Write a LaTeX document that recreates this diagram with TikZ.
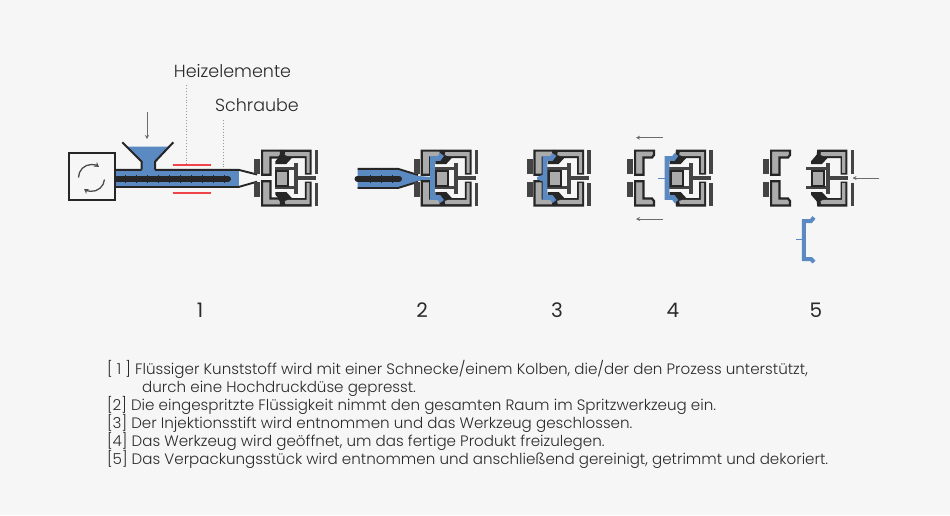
\documentclass[tikz,border=0pt]{standalone}
\usepackage{fontspec}
\setmainfont{Poppins Light}
\newfontfamily\numfont{Poppins}
\usetikzlibrary{arrows.meta}
\definecolor{bgc}{HTML}{F6F6F6}
\definecolor{blu}{HTML}{5B8AC2}
\definecolor{ink}{HTML}{262626}
\definecolor{hatch}{HTML}{ABABAB}
\definecolor{bar}{HTML}{444444}
\definecolor{txt}{HTML}{2A2A2A}
\definecolor{rd}{HTML}{F0444A}
\tikzset{
  x=1pt,y=-1pt,
  moldbody/.style={draw=ink,line width=2.2pt,fill=hatch,line join=miter},
  barfill/.style={fill=bar,draw=none},
  bluefill/.style={fill=blu,draw=none},
  bluestroke/.style={draw=blu,line width=4.8pt,line join=miter},
  moveArrow/.style={draw=gray!85!black,line width=1pt,-{Stealth[length=4pt,width=4pt]}},
  iconArrow/.style={draw=gray!60!black,line width=1.3pt,-{Stealth[length=4.5pt,width=5.5pt]}},
  guide/.style={draw=gray!80,line width=.9pt,dotted},
  heater/.style={draw=rd,line width=1.6pt},
  para/.style={anchor=base west,inner sep=0pt,font=\fontsize{15.1}{17}\selectfont,text=txt},
  stagenum/.style={inner sep=0pt,font=\numfont\fontsize{20}{22}\selectfont,text=txt},
  partlabel/.style={inner sep=0pt,font=\fontsize{17.5}{19}\selectfont,text=txt},
  leftmold/.pic={
    \foreach \s in {1,-1}{
      \begin{scope}[yscale=\s]
        \fill[barfill] (-6.7,-18.7) rectangle (-.7,-4.2);
        \draw[moldbody] (1.1,-3.2) -- (1.1,-27.4) -- (20,-27.4) -- (20,-23) -- (18,-20.5) -- (9.5,-20.5) -- (9.5,-3.2) -- cycle;
      \end{scope}
    }
  },
  rightmold/.pic={
    \foreach \s in {1,-1}{
      \begin{scope}[yscale=\s]
        \fill[barfill] (-3.4,-28.3) rectangle (0,-4.5);
        \fill[ink] (-36.7,-28.5) -- (-6.7,-28.5) -- (-6.7,-3.5) -- (-13.5,-3.5) -- (-13.5,-20) -- (-26.5,-20) -- (-32,-14) -- (-43,-14) -- (-43,-16.7) -- (-37.3,-23.3) -- cycle;
        \fill[hatch] (-33,-26) -- (-8.6,-26) -- (-8.6,-5.2) -- (-11.8,-5.2) -- (-11.8,-21.8) -- (-30,-21.8) -- (-33.5,-23) -- cycle;
        \fill[barfill] (-43.7+#1,-10.8) rectangle (-21+#1,-8.2);
      \end{scope}
    }
    \fill[barfill] (-24.2+#1,-15.5) rectangle (-20+#1,15.5);
    \fill[barfill] (-21+#1,-2.2) rectangle (-2+#1,2.2);
    \draw[draw=ink,line width=2.1pt,fill=hatch] (-42.2,-7.2) rectangle (-30,7.6);
  },
  blueshell/.pic={
    \foreach \s in {1,-1}{
      \begin{scope}[yscale=\s]
        \draw[bluestroke] (0,0) -- (0,-19.5) -- (6.5,-19.5) -- (9.5,-23.5);
      \end{scope}
    }
  }
}
\begin{document}
\begin{tikzpicture}
\useasboundingbox (0,0) rectangle (950,515);
\fill[bgc] (0,0) rectangle (950,515);

% stage 1
\draw[guide] (186,85) -- (186,165);
\draw[guide] (223,120) -- (223,178);
\node[partlabel] (heiz) at (232.5,71) {Heizelemente};
\node[partlabel] (schr) at (257,105) {Schraube};
\draw[moveArrow] (147,112) -- (147,139);
\fill[bluefill] (126.5,146.7) -- (168.5,146.7) -- (155,161.7) -- (155,170) -- (141.7,170) -- (141.7,161.7) -- cycle;
\draw[ink,line width=2pt] (122.3,142.3) -- (141.7,161.7) -- (141.7,169.5);
\draw[ink,line width=2pt] (173.3,142.3) -- (155,161.7) -- (155,169.5);
\fill[bluefill] (115,170) rectangle (238.5,187);
\draw[ink,line width=1.9pt] (115,169.8) -- (141.7,169.8) (155,169.8) -- (238.5,169.8) -- (257,174.5);
\draw[ink,line width=1.9pt] (115,187) -- (238.5,187) -- (257,181.7);
\draw[draw=ink,line width=6pt,line cap=round] (117,178.8) -- (228,178.8);
\foreach \x in {125,136,...,225}{\draw[ink,line width=.6pt] (\x,174.5) -- (\x,183);}
\draw[heater] (172.7,164.7) -- (211,164.7);
\draw[heater] (172.7,193) -- (211,193);
\node[draw=ink,line width=2pt,fill=bgc,minimum width=46pt,minimum height=47pt,inner sep=0pt] (motor) at (91.5,176.5) {};
\draw[iconArrow] (78.5,177.5) arc[start angle=180,end angle=305,radius=13];
\draw[iconArrow] (104.5,179.5) arc[start angle=5,end angle=125,radius=13];
\pic at (261,178) {leftmold};
\pic at (318.3,178) {rightmold=0};

% stage 2
\fill[bluefill] (357.5,169) -- (398,169) -- (418,176) -- (431,177) -- (431,180) -- (418,181) -- (398,188) -- (357.5,188) -- cycle;
\draw[ink,line width=1.9pt] (357.5,168.8) -- (398,168.8) -- (418,175);
\draw[ink,line width=1.9pt] (357.5,188) -- (398,188) -- (418,181.8);
\draw[draw=ink,line width=6pt,line cap=round] (357.5,178.7) -- (399,178.7);
\foreach \x in {370,381,392}{\draw[ink,line width=.6pt] (\x,174.5) -- (\x,183);}
\pic at (420.7,178) {leftmold};
\pic at (478.3,178) {rightmold=0};
\pic at (432.5,178) {blueshell};

% stage 3
\pic at (533.3,178) {leftmold};
\fill[bluefill] (537,177) -- (545,174) -- (545,182) -- (537,179.5) -- cycle;
\pic at (590.7,178) {rightmold=0};
\pic at (544.9,178) {blueshell};

% stage 4
\draw[moveArrow] (662.7,137.7) -- (636,137.7);
\draw[moveArrow] (662.7,219) -- (636,219);
\pic at (634,178) {leftmold};
\draw[blu,line width=1pt] (658.3,178) -- (665,178);
\pic at (712.7,178) {rightmold=0};
\pic at (666.9,178) {blueshell};

% stage 5
\draw[moveArrow] (879.3,178) -- (852.5,178);
\pic at (770,178) {leftmold};
\pic at (854,178) {rightmold=-4};
\draw[blu,line width=1pt] (796,239.7) -- (803,239.7);
\draw[blu,line width=4pt,line join=miter] (814,217.5) -- (811,221) -- (803.8,221) -- (803.8,259) -- (811,259) -- (814,262);

% numbers
\node[stagenum] (n1) at (200,310) {1};
\node[stagenum] (n2) at (422,310) {2};
\node[stagenum] (n3) at (557,310) {3};
\node[stagenum] (n4) at (673,310) {4};
\node[stagenum] (n5) at (816,310) {5};

% text
\node[para] (l1) at (107,374) {[ 1 ] Flüssiger Kunststoff wird mit einer Schnecke/einem Kolben, die/der den Prozess unterstützt,};
\node[para] (l1b) at (142,392) {durch eine Hochdruckdüse gepresst.};
\node[para] (l2) at (107,410) {[2] Die eingespritzte Flüssigkeit nimmt den gesamten Raum im Spritzwerkzeug ein.};
\node[para] (l3) at (107,428) {[3] Der Injektionsstift wird entnommen und das Werkzeug geschlossen.};
\node[para] (l4) at (107,446) {[4] Das Werkzeug wird geöffnet, um das fertige Produkt freizulegen.};
\node[para] (l5) at (107,464) {[5] Das Verpackungsstück wird entnommen und anschließend gereinigt, getrimmt und dekoriert.};
\end{tikzpicture}
\end{document}
